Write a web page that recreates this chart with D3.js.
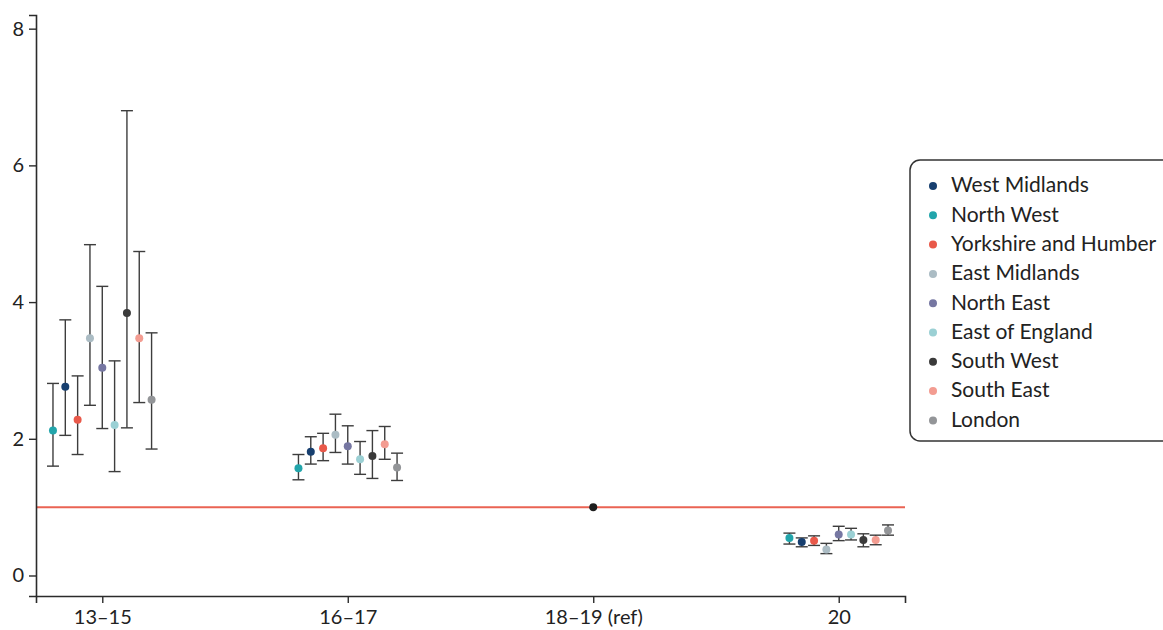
<!DOCTYPE html>
<html>
<head>
<meta charset="utf-8">
<script src="https://cdn.jsdelivr.net/npm/d3@7"></script>
<style>
  html, body { margin: 0; padding: 0; background: #fff; }
  svg { display: block; font-family: Lato, "Open Sans", sans-serif; }
</style>
</head>
<body>
<svg id="chart" width="1163" height="630"></svg>
<script>
// ---- Data ----
const ageGroups = ["13\u201315", "16\u201317", "18\u201319 (ref)", "20"];
const regions = ["West Midlands", "North West", "Yorkshire and Humber", "East Midlands",
  "North East", "East of England", "South West", "South East", "London"];
const regionColors = ["#173f6f", "#22a5ab", "#e9594a", "#abbcc4", "#7677a2",
  "#9bd0d4", "#3a3a3a", "#f39c91", "#939598"];
// order of regions within each group on the x axis
const plotOrder = ["North West", "West Midlands", "Yorkshire and Humber", "East Midlands",
  "North East", "East of England", "South West", "South East", "London"];

// estimates (legend order)
const est13_15 = [2.76, 2.12, 2.28, 3.47, 3.04, 2.20, 3.84, 3.47, 2.57];
const lo13_15  = [2.05, 1.60, 1.77, 2.49, 2.15, 1.52, 2.16, 2.53, 1.85];
const hi13_15  = [3.74, 2.81, 2.92, 4.84, 4.23, 3.14, 6.80, 4.74, 3.55];

const est16_17 = [1.81, 1.57, 1.86, 2.06, 1.89, 1.70, 1.75, 1.92, 1.58];
const lo16_17  = [1.63, 1.40, 1.68, 1.80, 1.63, 1.48, 1.42, 1.70, 1.39];
const hi16_17  = [2.03, 1.77, 2.08, 2.36, 2.19, 1.96, 2.12, 2.18, 1.79];

const est20 = [0.49, 0.55, 0.51, 0.38, 0.60, 0.60, 0.52, 0.52, 0.66];
const lo20  = [0.42, 0.46, 0.44, 0.32, 0.51, 0.52, 0.42, 0.45, 0.59];
const hi20  = [0.55, 0.62, 0.58, 0.47, 0.72, 0.69, 0.61, 0.59, 0.74];

const refValue = 1;
const yTicks = [0, 2, 4, 6, 8];

// ---- Build rows ----
const groupsData = [
  { group: ageGroups[0], est: est13_15, lo: lo13_15, hi: hi13_15 },
  { group: ageGroups[1], est: est16_17, lo: lo16_17, hi: hi16_17 },
  { group: ageGroups[3], est: est20, lo: lo20, hi: hi20 }
];
const rows = [];
groupsData.forEach(g => {
  regions.forEach((r, i) => {
    rows.push({ group: g.group, region: r, est: g.est[i], lo: g.lo[i], hi: g.hi[i], color: regionColors[i] });
  });
});

// ---- Layout ----
const svg = d3.select("#chart");
const x = d3.scalePoint().domain(ageGroups).range([36, 905]).padding(0.27);
const off = d3.scalePoint().domain(plotOrder).range([-49.3, 49.3]);
const y = d3.scaleLinear().domain([-0.3, 8.2]).range([596, 15]);

const ink = "#2b2b2b";

// reference line
svg.append("line")
  .attr("x1", x.range()[0]).attr("x2", x.range()[1])
  .attr("y1", y(refValue)).attr("y2", y(refValue))
  .attr("stroke", "#ea6353").attr("stroke-width", 2);

// axes
const yAxis = svg.append("g").attr("transform", "translate(36,0)")
  .call(d3.axisLeft(y).tickValues(yTicks).tickFormat(d3.format("d")).tickSizeOuter(0).tickSize(7).tickPadding(5));
const xAxis = svg.append("g").attr("transform", "translate(0," + y.range()[0] + ")")
  .call(d3.axisBottom(x).tickSizeOuter(0).tickSize(7).tickPadding(5));
[yAxis, xAxis].forEach(a => {
  a.select(".domain").attr("stroke", ink).attr("stroke-width", 1.6);
  a.selectAll(".tick line").attr("stroke", ink).attr("stroke-width", 1.4);
  a.selectAll(".tick text").attr("fill", "#222").style("font-family", "Lato, sans-serif").style("font-size", "20px");
});
xAxis.selectAll(".tick text").attr("dy", "0.8em");

// error bars
const cap = 6;
const eb = svg.append("g");
rows.forEach(d => {
  const cx = x(d.group) + off(d.region);
  eb.append("line").attr("x1", cx).attr("x2", cx).attr("y1", y(d.lo)).attr("y2", y(d.hi))
    .attr("stroke", "#3d3d3d").attr("stroke-width", 1.4);
  [d.lo, d.hi].forEach(v => {
    eb.append("line").attr("x1", cx - cap).attr("x2", cx + cap).attr("y1", y(v)).attr("y2", y(v))
      .attr("stroke", "#3d3d3d").attr("stroke-width", 1.4);
  });
});

// points
svg.append("g").selectAll("circle").data(rows).join("circle")
  .attr("cx", d => x(d.group) + off(d.region))
  .attr("cy", d => y(d.est))
  .attr("r", 4)
  .attr("fill", d => d.color);

// reference point
svg.append("circle").attr("cx", x(ageGroups[2])).attr("cy", y(refValue)).attr("r", 4).attr("fill", "#1e1e1e");

// legend
const lg = svg.append("g");
lg.append("rect").attr("x", 910).attr("y", 160).attr("width", 270).attr("height", 281)
  .attr("rx", 10).attr("fill", "#fff").attr("stroke", "#333").attr("stroke-width", 1.5);
regions.forEach((r, i) => {
  const yy = 185 + i * 29.3;
  lg.append("circle").attr("cx", 933).attr("cy", yy + 1).attr("r", 4).attr("fill", regionColors[i]);
  lg.append("text").attr("x", 951).attr("y", yy).attr("dy", "0.35em")
    .attr("fill", "#222").style("font-size", "21px").text(r);
});
</script>
</body>
</html>
